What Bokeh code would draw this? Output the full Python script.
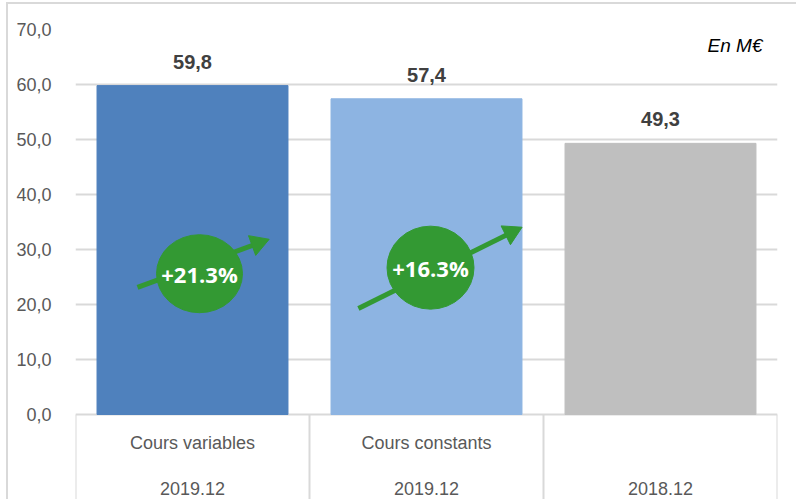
import math
from bokeh.plotting import figure
from bokeh.models import Range1d, FixedTicker, Label, ColumnDataSource
from bokeh.core.properties import value
from bokeh.embed import file_html
from bokeh.resources import INLINE

# ---- data ----
categories = ["Cours variables", "Cours constants", ""]
periods = ["2019.12", "2019.12", "2018.12"]
values = [59.8, 57.4, 49.3]
bar_colors = ["#4F81BD", "#8DB4E2", "#BFBFBF"]
y_ticks = [0, 10, 20, 30, 40, 50, 60, 70]
growth_labels = ["+21.3%", "+16.3%"]
unit_label = "En M€"

# ---- layout / style constants ----
OFF_X, OFF_Y = 8, 4                  # chart border offset inside the page
W, H = 798 - OFF_X, 501 - OFF_Y
BORDER_L, BORDER_R, BORDER_T = 75 - OFF_X, 21, 29 - OFF_Y
TABLE_PX = 87                        # height of the label table under the value axis
GRID = "#D9D9D9"
GREEN = "#339933"
TEXT_GREY = "#595959"

frame_w = W - BORDER_L - BORDER_R
frame_h = H - BORDER_T
px_y = (frame_h - TABLE_PX) / (y_ticks[-1] - y_ticks[0])
y_min = y_ticks[0] - TABLE_PX / px_y

p = figure(width=W, height=H, output_backend="svg", toolbar_location=None,
           x_range=Range1d(0, len(values)), y_range=Range1d(y_min, y_ticks[-1]),
           min_border_left=BORDER_L, min_border_right=BORDER_R,
           min_border_top=BORDER_T, min_border_bottom=0,
           styles={"margin-left": f"{OFF_X - 2}px", "margin-top": f"{OFF_Y - 2}px",
                   "border-left": f"2px solid {GRID}", "border-top": f"2px solid {GRID}"})
p.outline_line_color = None
p.background_fill_color = "white"
p.border_fill_color = "white"
px_x = frame_w / (p.x_range.end - p.x_range.start)

xs = [i + 0.5 for i in range(len(values))]
src = ColumnDataSource(dict(
    x=xs, top=values, color=bar_colors,
    label=[f"{v:.1f}".replace(".", ",") for v in values],
    cat=categories, period=periods, base=[0] * len(values),
))

p.vbar(x="x", top="top", bottom=0, width=0.816, fill_color="color", line_color="color", source=src)

p.text(x="x", y="top", text="label", source=src, y_offset=-24,
       text_align="center", text_baseline="middle",
       text_font=value("Liberation Sans"), text_font_style="bold",
       text_font_size="20px", text_color="#404040")

# growth annotations (decorative positions)
g_x = [xs[0] + 7 / px_x, xs[1] + 4 / px_x]
g_y = [25.6, 26.7]
a_x0 = [0.265, 1.209]
a_y0 = [23.1, 19.27]
a_x1 = [0.779, 1.862]
a_y1 = [31.1, 33.07]
ang = [math.atan2((y1 - y0) * px_y, (x1 - x0) * px_x) - math.pi / 2
       for x0, y0, x1, y1 in zip(a_x0, a_y0, a_x1, a_y1)]
gsrc = ColumnDataSource(dict(x=g_x, y=g_y, w=[86, 87], h=[78, 83], text=growth_labels,
                             x0=a_x0, y0=a_y0, x1=a_x1, y1=a_y1, ang=ang))

p.segment(x0="x0", y0="y0", x1="x1", y1="y1", source=gsrc, line_width=5, line_color=GREEN)
p.scatter(x="x1", y="y1", marker="triangle", size=21, angle="ang", source=gsrc,
          fill_color=GREEN, line_color=GREEN)
p.ellipse(x="x", y="y", width="w", height="h", width_units="screen", height_units="screen",
          source=gsrc, fill_color=GREEN, line_color=GREEN)
p.text(x="x", y="y", text="text", source=gsrc, text_align="center", text_baseline="middle",
       text_font=value("Open Sans"), text_font_style="bold", text_font_size="22px",
       text_color="white")

# category table under the axis
bounds = list(range(len(values) + 1))
p.segment(x0=bounds, y0=[0] * len(bounds), x1=bounds, y1=[y_min] * len(bounds),
          line_color=GRID, line_width=2)
p.text(x="x", y="base", text="cat", source=src, y_offset=28,
       text_align="center", text_baseline="middle",
       text_font=value("Liberation Sans"), text_font_size="18px", text_color=TEXT_GREY)
p.text(x="x", y="base", text="period", source=src, y_offset=74,
       text_align="center", text_baseline="middle",
       text_font=value("Liberation Sans"), text_font_size="18px", text_color=TEXT_GREY)

p.xaxis.visible = False

# y axis
ya = p.yaxis[0]
ya.ticker = FixedTicker(ticks=y_ticks)
ya.major_label_overrides = {t: f"{t:.1f}".replace(".", ",") for t in y_ticks}
ya.axis_line_color = None
ya.major_tick_line_color = None
ya.minor_tick_line_color = None
ya.major_label_standoff = 18
ya.major_label_text_font = "Liberation Sans"
ya.major_label_text_font_size = "18px"
ya.major_label_text_color = TEXT_GREY

p.xgrid.visible = False
p.ygrid.grid_line_color = GRID
p.ygrid.grid_line_width = 2

p.add_layout(Label(x=p.x_range.end, y=p.y_range.end, x_offset=-15, y_offset=-16,
                   text=unit_label, text_align="right", text_baseline="middle",
                   text_font="Liberation Sans", text_font_style="italic",
                   text_font_size="19px", text_color="black"))

open("out.html", "w").write(file_html(p, INLINE))
